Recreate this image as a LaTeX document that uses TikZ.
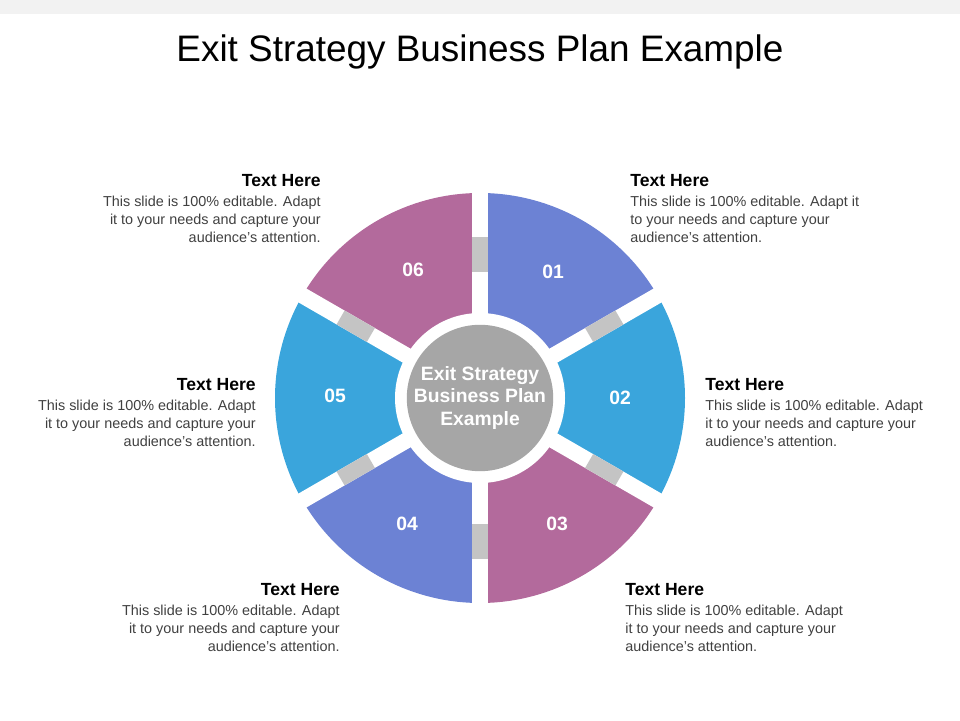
\documentclass[tikz,border=0pt]{standalone}
\usepackage{fontspec}
\setmainfont{Liberation Sans}
\usetikzlibrary{positioning}
\definecolor{segblue}{HTML}{6C82D4}
\definecolor{segcyan}{HTML}{3AA5DC}
\definecolor{segpink}{HTML}{B36A9C}
\definecolor{hubgray}{HTML}{A6A6A6}
\definecolor{linkgray}{HTML}{C4C4C4}
\definecolor{stripgray}{HTML}{F2F2F2}
\definecolor{bodytext}{HTML}{404040}
\newcommand{\apos}{\char39\relax}
\begin{document}
\begin{tikzpicture}[x=0.02cm, y=0.02cm,
            num/.style={text=white, font=\fontsize{11}{13}\selectfont\bfseries},
            head/.style={inner sep=0pt, font=\fontsize{10}{12}\selectfont\bfseries},
            body/.style={inner sep=0pt, text=bodytext, font=\fontsize{8.2}{10.3}\selectfont}
        ]
        \useasboundingbox (0,0) rectangle (960,720);
        \fill[stripgray] (0,706) rectangle (960,720);

        % title
        \node[font=\fontsize{21}{25}\selectfont] (title) at (480,668) {Exit Strategy Business Plan Example};

        \coordinate (c) at (480,322);

        % segments
        \foreach \a/\b/\col in {30/90/segblue, -30/30/segcyan, -90/-30/segpink,
                                -150/-90/segblue, 150/210/segcyan, 90/150/segpink}
            \fill[\col] (c) -- ++(\a:205) arc[start angle=\a, end angle=\b, radius=205] -- cycle;

        % gaps and links
        \foreach \a in {90,30,-30,-90,-150,150} {
            \draw[white, line width=0.32cm] (c) -- ++(\a:215);
            \draw[linkgray, line width=0.32cm] (c) ++(\a:126) -- ++(\a:35);
        }

        % hub
        \fill[white] (c) circle (85);
        \node[circle, fill=hubgray, minimum size=2.88cm, inner sep=0pt, align=center,
              text=white, font=\fontsize{11}{13}\selectfont\bfseries] (hub) at (c)
              {Exit Strategy\\Business Plan\\Example};

        % numbers
        \node[num] (n01) at (553,448) {01};
        \node[num] (n02) at (620,322) {02};
        \node[num] (n03) at (557,196) {03};
        \node[num] (n04) at (407,196) {04};
        \node[num] (n05) at (335,324) {05};
        \node[num] (n06) at (413,450) {06};

        % texts
        \node[head, anchor=north west] (h1) at (630,546) {Text Here};
        \node[body, align=left, below=5pt of h1.south west, anchor=north west] (t1)
            {This slide is 100\% editable. Adapt it\\to your needs and capture your\\audience\apos s attention.};

        \node[head, anchor=north east] (h6) at (321,546) {Text Here};
        \node[body, align=right, below=5pt of h6.south east, anchor=north east] (t6)
            {This slide is 100\% editable. Adapt\\it to your needs and capture your\\audience\apos s attention.};

        \node[head, anchor=north west] (h2) at (705,342) {Text Here};
        \node[body, align=left, below=5pt of h2.south west, anchor=north west] (t2)
            {This slide is 100\% editable. Adapt\\it to your needs and capture your\\audience\apos s attention.};

        \node[head, anchor=north east] (h5) at (256,342) {Text Here};
        \node[body, align=right, below=5pt of h5.south east, anchor=north east] (t5)
            {This slide is 100\% editable. Adapt\\it to your needs and capture your\\audience\apos s attention.};

        \node[head, anchor=north west] (h3) at (625,137) {Text Here};
        \node[body, align=left, below=5pt of h3.south west, anchor=north west] (t3)
            {This slide is 100\% editable. Adapt\\it to your needs and capture your\\audience\apos s attention.};

        \node[head, anchor=north east] (h4) at (340,137) {Text Here};
        \node[body, align=right, below=5pt of h4.south east, anchor=north east] (t4)
            {This slide is 100\% editable. Adapt\\it to your needs and capture your\\audience\apos s attention.};
    \end{tikzpicture}
\end{document}
